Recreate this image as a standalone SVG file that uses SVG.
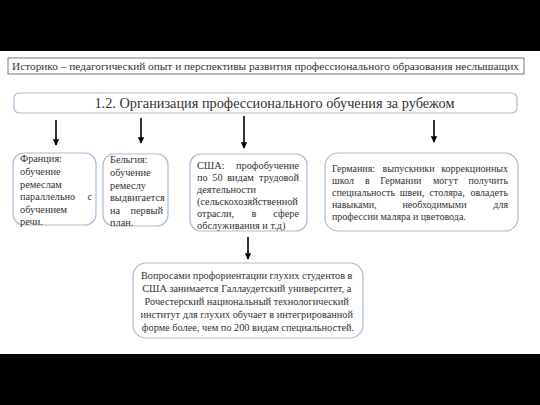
<svg xmlns="http://www.w3.org/2000/svg" width="540" height="405" viewBox="0 0 540 405">
<defs>
<style>
.t{font-family:"Liberation Serif","Times New Roman",serif;fill:#333}
.e{text-anchor:end}
.box{fill:#fff;stroke:#a8bdd4;stroke-width:1.2}
.arr{stroke:#000;stroke-width:1.6;fill:none;marker-end:url(#ah)}
</style>
<marker id="ah" viewBox="0 0 10 10" refX="9" refY="5" markerWidth="4" markerHeight="4" orient="auto" markerUnits="strokeWidth">
<path d="M0,0 L10,5 L0,10 z" fill="#000"/>
</marker>
</defs>
<rect x="0" y="0" width="540" height="405" fill="#fff"/>
<rect x="0" y="0" width="540" height="51" fill="#000"/>
<rect x="0" y="354" width="540" height="51" fill="#000"/>

<g id="title">
<rect x="8" y="58" width="516" height="16" fill="#fff" stroke="#777" stroke-width="1"/>
<text class="t" x="12" y="70" font-size="11.3" textLength="507" lengthAdjust="spacingAndGlyphs">Историко – педагогический опыт и перспективы развития профессионального образования неслышащих</text>
</g>

<g id="section">
<rect x="14" y="93" width="503" height="20" rx="5" class="box"/>
<text class="t" x="274.5" y="108" font-size="14.3" text-anchor="middle">1.2. Организация профессионального обучения за рубежом</text>
</g>

<g id="connectors">
<line class="arr" x1="56" y1="120" x2="56" y2="145"/>
<line class="arr" x1="141" y1="118" x2="141" y2="143"/>
<line class="arr" x1="244" y1="116" x2="244" y2="148"/>
<line class="arr" x1="434" y1="120" x2="434" y2="142"/>
<line class="arr" x1="248" y1="237" x2="248" y2="259"/>
</g>

<g id="france" class="t" font-size="10.3">
<rect x="13" y="153" width="83" height="72" rx="11" class="box"/>
<text x="20" y="162">Франция:</text>
<text x="20" y="175">обучение</text>
<text x="20" y="188">ремеслам</text>
<text x="20" y="200">параллельно</text>
<text x="92" y="200" class="e">с</text>
<text x="20" y="213">обучением</text>
<text x="20" y="225">речи.</text>
</g>

<g id="belgium" class="t" font-size="10.3">
<rect x="103" y="154" width="65" height="72" rx="11" class="box"/>
<text x="110" y="163">Бельгия:</text>
<text x="110" y="176">обучение</text>
<text x="110" y="189">ремеслу</text>
<text x="110" y="201">выдвигается</text>
<text x="110" y="214">на</text>
<text x="163" y="214" class="e">первый</text>
<text x="110" y="226">план.</text>
</g>

<g id="usa" class="t" font-size="10.3">
<rect x="190" y="154" width="117" height="77" rx="11" class="box"/>
<text x="197" y="169">США:</text>
<text x="299" y="169" class="e">профобучение</text>
<text y="181"><tspan x="197">по</tspan><tspan x="212.3">50</tspan><tspan x="227.2">видам</tspan></text>
<text x="299" y="181" class="e">трудовой</text>
<text x="197" y="193">деятельности</text>
<text x="197" y="205">(сельскохозяйственной</text>
<text y="217"><tspan x="197">отрасли,</tspan><tspan x="251.4">в</tspan></text>
<text x="299" y="217" class="e">сфере</text>
<text x="197" y="229">обслуживания и т.д)</text>
</g>

<g id="germany" class="t" font-size="10">
<rect x="325" y="153" width="193" height="78" rx="13" class="box"/>
<text y="172"><tspan x="332">Германия:</tspan><tspan x="382.5">выпускники</tspan></text>
<text x="508" y="172" class="e">коррекционных</text>
<text y="184"><tspan x="332">школ</tspan><tspan x="365.1">в</tspan><tspan x="380.3">Германии</tspan><tspan x="433">могут</tspan></text>
<text x="508" y="184" class="e">получить</text>
<text y="196"><tspan x="332">специальность</tspan><tspan x="399.8">швеи,</tspan><tspan x="429.6">столяра,</tspan></text>
<text x="508" y="196" class="e">овладеть</text>
<text y="208"><tspan x="332">навыками,</tspan><tspan x="402.5">необходимыми</tspan></text>
<text x="508" y="208" class="e">для</text>
<text x="332" y="220">профессии маляра и цветовода.</text>
</g>

<g id="bottom" class="t" font-size="10.3">
<rect x="133" y="263" width="230" height="75" rx="13" class="box"/>
<text text-anchor="middle">
<tspan x="248" y="279">Вопросами профориентации глухих студентов в</tspan>
<tspan x="248" y="292">США занимается Галлаудетский университет, а</tspan>
<tspan x="248" y="305">Рочестерский национальный технологический</tspan>
<tspan x="248" y="318">институт для глухих обучает в интегрированной</tspan>
<tspan x="248" y="331">форме более, чем по 200 видам специальностей.</tspan>
</text>
</g>
</svg>
